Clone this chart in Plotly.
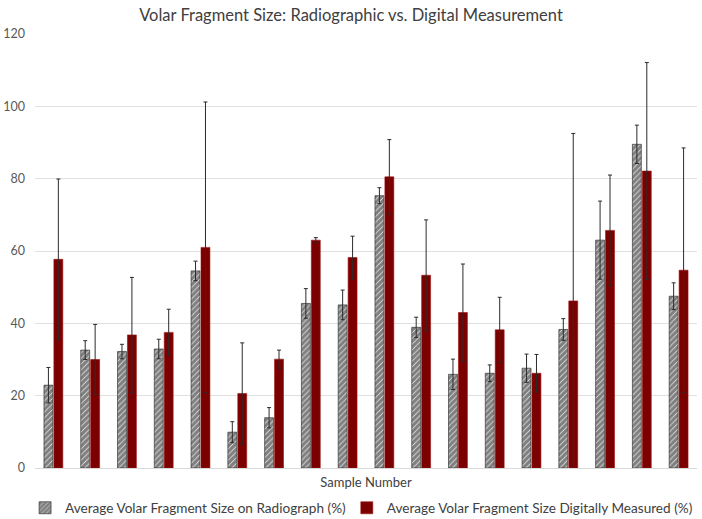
import plotly.graph_objects as go

samples = [str(i) for i in range(1, 19)]
radiograph = [22.9, 32.6, 32.2, 32.9, 54.5, 9.9, 13.9, 45.5, 45.1, 75.3, 38.9, 25.9, 26.2, 27.6, 38.3, 63.0, 89.5, 47.5]
radiograph_err = [4.9, 2.6, 2.0, 2.7, 2.7, 2.9, 2.8, 4.1, 4.1, 2.2, 2.8, 4.2, 2.3, 3.9, 3.0, 10.8, 5.3, 3.7]
digital = [57.7, 30.0, 36.8, 37.5, 61.0, 20.6, 30.1, 63.0, 58.2, 80.5, 53.3, 43.0, 38.2, 26.2, 46.2, 65.7, 82.1, 54.7]
digital_err = [22.2, 9.7, 15.9, 6.4, 40.2, 14.0, 2.5, 0.7, 5.9, 10.3, 15.3, 13.4, 9.0, 5.2, 46.3, 15.3, 30.0, 33.8]
y_ticks = [0, 20, 40, 60, 80, 100, 120]

font_family = "Lato, Open Sans, sans-serif"

fig = go.Figure()
fig.add_trace(go.Bar(
    x=samples, y=radiograph,
    name="Average Volar Fragment Size on Radiograph (%)",
    legend="legend",
    marker=dict(color="white",
                pattern=dict(shape="/", fgcolor="#000000", bgcolor="white", size=4, solidity=0.85),
                line=dict(color="#202020", width=0.6)),
    error_y=dict(type="data", array=radiograph_err, visible=True, color="#2b2b2b", thickness=1, width=2),
))
fig.add_trace(go.Bar(
    x=samples, y=digital,
    name="Average Volar Fragment Size Digitally Measured (%)",
    legend="legend2",
    marker=dict(color="#7b0000", line=dict(color="#a01010", width=0.6)),
    error_y=dict(type="data", array=digital_err, visible=True, color="#2b2b2b", thickness=1, width=2),
))

legend_style = dict(orientation="h", yanchor="middle", y=-0.092, xanchor="left",
                    font=dict(size=13.6, color="#404040"), itemwidth=30,
                    bgcolor="rgba(0,0,0,0)")

fig.update_layout(
    width=702, height=519,
    paper_bgcolor="white", plot_bgcolor="white",
    font=dict(family=font_family, color="#595959", size=12),
    title=dict(text="Volar Fragment Size: Radiographic vs. Digital Measurement",
               x=0.5, xanchor="center", y=0.97, yanchor="middle",
               font=dict(size=16.5, color="#404040", family=font_family)),
    margin=dict(l=35, r=5, t=34, b=51, autoexpand=False),
    barmode="group", bargap=0.46, bargroupgap=0.1,
    showlegend=True,
    legend=dict(x=-0.015, **legend_style),
    legend2=dict(x=0.471, **legend_style),
    xaxis=dict(showticklabels=False, ticks="", showgrid=False, showline=True,
               linecolor="#d9d9d9", linewidth=1, automargin=False,
               title=dict(text="Sample Number", standoff=9, font=dict(size=13, color="#404040"))),
    yaxis=dict(range=[0, 120], tickvals=y_ticks, showgrid=True, gridcolor="#e0e0e0", gridwidth=1,
               zeroline=False, showline=False, ticks="", ticklabelstandoff=9, automargin=False,
               tickfont=dict(size=12.5, color="#595959")),
)

fig.write_html("out.html", config={"displayModeBar": False},
               post_script="document.body.style.margin='0';document.body.style.overflow='hidden';")
